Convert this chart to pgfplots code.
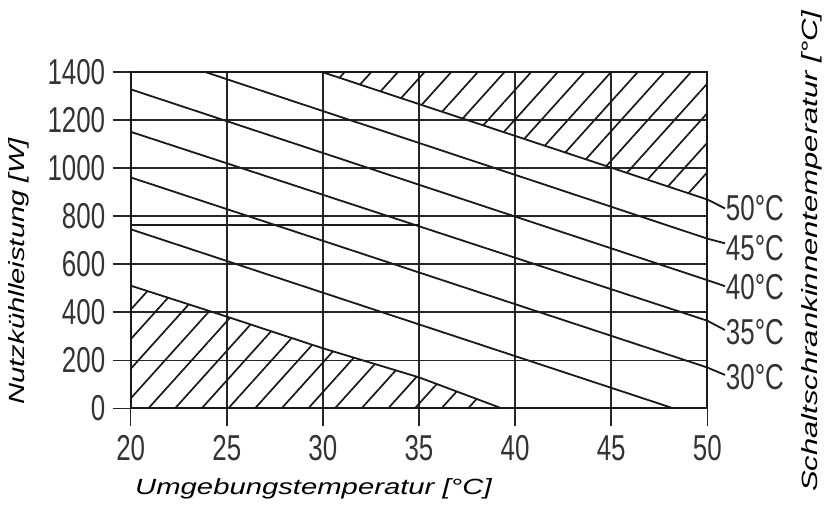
\documentclass[border=0pt]{standalone}
\usepackage{fontspec}
\setmainfont{Liberation Sans}
\newfontfamily\din{Liberation Sans}[FakeStretch=0.72]
\newfontfamily\lab{Liberation Sans}[FakeStretch=1.33]
\newfontfamily\labwide{Liberation Sans}[FakeStretch=1.41]
\usepackage{pgfplots}
\pgfplotsset{compat=1.18}
\usetikzlibrary{patterns.meta}

\newcommand\ticksize{\fontsize{36bp}{40bp}\selectfont}
\newcommand\labsize{\fontsize{22bp}{26bp}\selectfont}

\tikzset{
    kline/.style={line width=1.8bp, black!90, mark=none, solid},
    hatch/.style={draw=none, pattern={Lines[angle=48, distance=19.8bp, line width=1.7bp]}, pattern color=black!90},
}

\begin{document}
\begin{tikzpicture}
\path[use as bounding box] (-130.7bp,-105.7bp) rectangle (703.3bp,408.3bp);
\begin{axis}[
    at={(0,0)}, anchor=south west,
    width=576.6bp, height=336bp, scale only axis,
    xmin=20, xmax=50, ymin=0, ymax=1400,
    xtick={20,25,...,50}, ytick={0,200,...,1400},
    grid=major,
    major grid style={line width=1.6bp, black!85},
    axis line style={line width=1.8bp, black!90},
    tick align=outside, major tick length=18bp,
    every tick/.style={line width=1.6bp, black!85},
    xtick pos=lower, ytick pos=left,
    ticklabel style={font=\din\ticksize, text=black!80},
    yticklabel style={xshift=-4bp},
    xticklabel style={yshift=-6bp},
    /pgf/number format/assume math mode=true,
    /pgf/number format/1000 sep={},
    xlabel={Umgebungstemperatur [°C]},
    xlabel style={at={([xshift=1bp,yshift=-85.7bp]rel axis cs:0,0)}, anchor=base west,
        font=\lab\itshape\labsize, text=black},
    ylabel={Nutzkühlleistung [W]},
    ylabel style={at={([xshift=-105.7bp]rel axis cs:0,0)}, rotate=0, anchor=base west,
        font=\lab\itshape\labsize, text=black},
    clip=false,
]
% schraffierte Bereiche
\addplot[hatch] coordinates {(30,1400) (50,1400) (50,870)} -- cycle;
\addplot[hatch] coordinates {(20,0) (20,511) (25,382) (30,250) (35,129) (39.3,0)} -- cycle;

% Kennlinien
\addplot[kline] coordinates {(20,511) (25,382) (30,250) (35,129) (39.3,0)};
\addplot[kline] coordinates {(20,746) (48.23,0)};
\addplot[kline] coordinates {(20,962) (50,170) (50.92,139)};
\addplot[kline] coordinates {(20,1152) (50,365) (50.92,326)};
\addplot[kline] coordinates {(20,1329) (50,534) (50.92,509)};
\addplot[kline] coordinates {(23.92,1400) (50,707) (50.92,687.5)};
\addplot[kline] coordinates {(30,1400) (50,870) (50.92,833)};
\addplot[kline] coordinates {(20,765) (35,765)};

% Beschriftung der Kennlinien
\begin{scope}[every node/.style={anchor=base west, font=\din\ticksize, text=black!80, inner sep=0pt}]
\node at (axis cs:50.96,784) {50°C};
\node at (axis cs:50.96,617) {45°C};
\node at (axis cs:50.96,453) {40°C};
\node at (axis cs:50.96,264) {35°C};
\node at (axis cs:50.96,79) {30°C};
\end{scope}
\node[rotate=90, anchor=base west, font=\labwide\itshape\labsize, inner sep=0pt]
    at ([xshift=686.3bp,yshift=-83.7bp]rel axis cs:0,0) {Schaltschrankinnentemperatur [°C]};
\end{axis}
\end{tikzpicture}
\end{document}
